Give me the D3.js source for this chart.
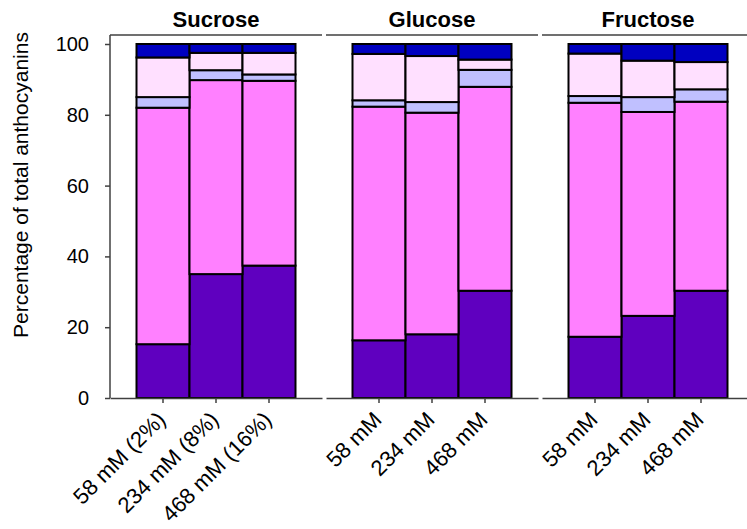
<!DOCTYPE html>
<html>
<head>
<meta charset="utf-8">
<script src="https://cdn.jsdelivr.net/npm/d3@7"></script>
<style>
  body { margin: 0; background: #fff; }
  text { font-family: "Liberation Sans", Arial, sans-serif; }
</style>
</head>
<body>
<script>
var width = 747;
var height = 529;

// panels and bars
var sugars = ["Sucrose", "Glucose", "Fructose"];
var concSucrose = ["58 mM (2%)", "234 mM (8%)", "468 mM (16%)"];
var concOther = ["58 mM", "234 mM", "468 mM"];

// percentages per anthocyanin group, bottom -> top
// order of bars: Suc 58, 234, 468 | Glc 58, 234, 468 | Fru 58, 234, 468
var layer1 = [15.2, 35.0, 37.4, 16.3, 18.0, 30.3, 17.3, 23.2, 30.3];
var layer2 = [66.8, 54.8, 52.2, 66.0, 62.6, 57.6, 66.1, 57.6, 53.4];
var layer3 = [ 3.0,  2.8,  1.8,  1.8,  3.0,  4.8,  1.9,  4.2,  3.5];
var layer4 = [11.2,  4.9,  6.1, 13.1, 13.0,  2.9, 12.0, 10.3,  7.7];
var layer5 = [ 3.8,  2.5,  2.5,  2.8,  3.4,  4.4,  2.7,  4.7,  5.1];

var yTicks = [0, 20, 40, 60, 80, 100];

var keys = ["l1", "l2", "l3", "l4", "l5"];
var colors = {l1: "#5f00bf", l2: "#ff80ff", l3: "#c0c0ff", l4: "#ffe0ff", l5: "#0000c0"};

var rows = [];
sugars.forEach(function(s, i) {
  var labels = (i == 0) ? concSucrose : concOther;
  labels.forEach(function(c, j) {
    var k = i * 3 + j;
    rows.push({sugar: s, idx: j, label: c,
               l1: layer1[k], l2: layer2[k], l3: layer3[k], l4: layer4[k], l5: layer5[k]});
  });
});

var stacked = d3.stack().keys(keys)(rows);

var svg = d3.select("body")
            .append("svg")
            .attr("width", width)
            .attr("height", height);

var y = d3.scaleLinear().domain([0, 100]).range([398, 44]);
var yTop = 35;

var xPanel = d3.scaleBand()
               .domain(sugars)
               .range([110, 754])
               .paddingInner(4 / 216)
               .paddingOuter(0);

var xBar = d3.scaleBand()
             .domain([0, 1, 2])
             .range([0, xPanel.bandwidth()])
             .paddingInner(0)
             .paddingOuter(0.5);

var lineColor = "#404040";

var panels = svg.selectAll("g.panel")
                .data(sugars)
                .enter()
                .append("g")
                .attr("class", "panel")
                .attr("transform", function(d) { return "translate(" + xPanel(d) + ",0)"; });

// top frame line
panels.append("line")
      .attr("x1", 0)
      .attr("x2", xPanel.bandwidth())
      .attr("y1", yTop)
      .attr("y2", yTop)
      .style("stroke", lineColor)
      .style("stroke-width", 1.5);

// stacked bars
stacked.forEach(function(layer) {
  svg.selectAll("rect." + layer.key)
     .data(layer)
     .enter()
     .append("rect")
     .attr("class", layer.key)
     .attr("x", function(d) { return xPanel(d.data.sugar) + xBar(d.data.idx); })
     .attr("width", xBar.bandwidth())
     .attr("y", function(d) { return y(d[1]); })
     .attr("height", function(d) { return y(d[0]) - y(d[1]); })
     .attr("fill", colors[layer.key])
     .style("stroke", "#000")
     .style("stroke-width", 2);
});

// bottom axes per panel
sugars.forEach(function(s, i) {
  var labels = (i == 0) ? concSucrose : concOther;
  var ax = svg.append("g")
              .attr("transform", "translate(" + xPanel(s) + "," + y(0) + ")")
              .call(d3.axisBottom(xBar).tickSize(5).tickSizeOuter(0)
                      .tickFormat(function(d) { return labels[d]; }));
  ax.select(".domain").style("stroke", lineColor).style("stroke-width", 1.5);
  ax.selectAll(".tick line").style("stroke", lineColor).style("stroke-width", 1.5);
  ax.selectAll(".tick text")
    .attr("font-size", 22)
    .attr("fill", "#000")
    .attr("text-anchor", "end")
    .attr("dy", 0)
    .attr("y", 0)
    .attr("transform", "translate(4,23) rotate(-45)");
});

// y axis
var yAxis = svg.append("g")
               .attr("transform", "translate(110,0)")
               .call(d3.axisLeft(y).tickValues(yTicks).tickSize(5).tickPadding(16).tickSizeOuter(0));
yAxis.select(".domain").remove();
yAxis.selectAll(".tick line").style("stroke", lineColor).style("stroke-width", 1.5);
yAxis.selectAll(".tick text").attr("font-size", 20).attr("fill", "#000");

svg.append("line")
   .attr("x1", 110).attr("x2", 110)
   .attr("y1", yTop).attr("y2", y(0))
   .style("stroke", lineColor)
   .style("stroke-width", 1.5);

// titles
svg.selectAll("text.title")
   .data(sugars)
   .enter()
   .append("text")
   .attr("class", "title")
   .attr("x", function(d) { return xPanel(d) + xPanel.bandwidth() / 2; })
   .attr("y", 27)
   .attr("text-anchor", "middle")
   .attr("font-size", 22)
   .attr("font-weight", "bold")
   .text(function(d) { return d; });

// y label
svg.append("text")
   .attr("transform", "translate(28,185) rotate(-90)")
   .attr("text-anchor", "middle")
   .attr("font-size", 21)
   .text("Percentage of total anthocyanins");
</script>
</body>
</html>
